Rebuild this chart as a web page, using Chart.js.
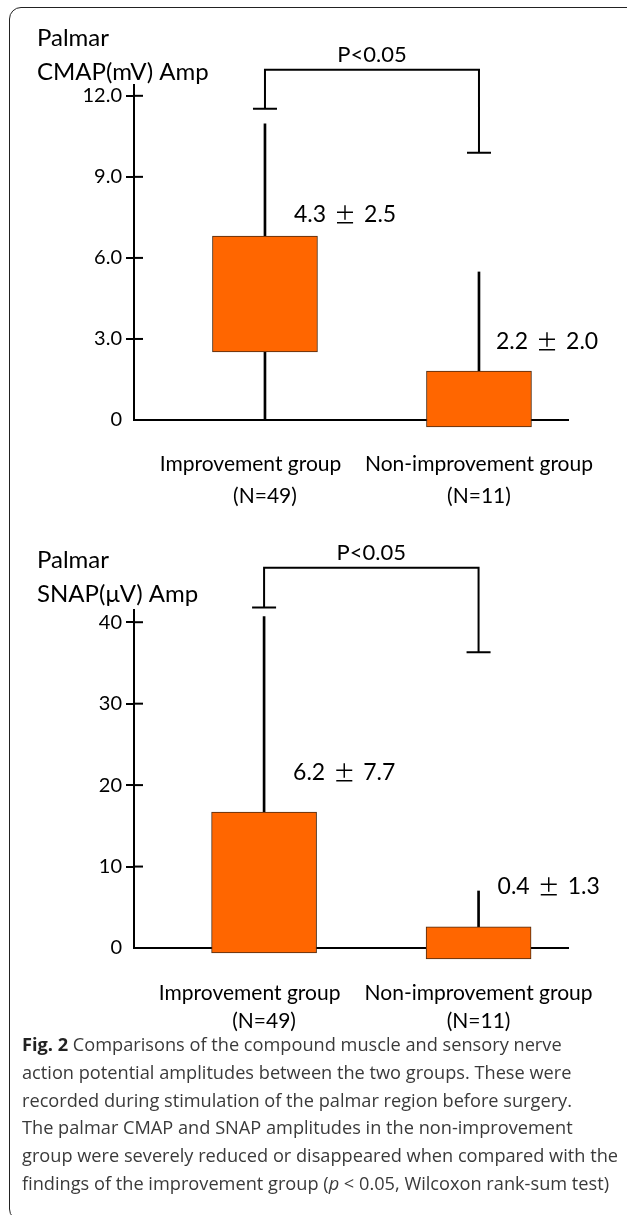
<!DOCTYPE html>
<html>
<head>
<meta charset="utf-8">
<script src="https://cdn.jsdelivr.net/npm/chart.js@4"></script>
<style>
  html, body { margin: 0; padding: 0; background: #fff; }
  body { width: 627px; height: 1215px; position: relative; overflow: hidden; }
  .frame {
    position: absolute; left: 9px; top: 7px; width: 630px; height: 1214px;
    border: 1.5px solid #222; border-radius: 12px; box-sizing: border-box;
  }
  canvas { position: absolute; left: 0; }
  #cmapChart { top: 0; }
  #snapChart { top: 520px; }
  #caption {
    position: absolute; left: 22px; top: 1031px;
    font-family: 'Open Sans', sans-serif; font-size: 18.2px; line-height: 27.8px;
    color: #3a3a3a; white-space: nowrap;
  }
  #caption b { color: #222; }
</style>
</head>
<body>
<div class="frame"></div>
<canvas id="cmapChart" width="627" height="520"></canvas>
<canvas id="snapChart" width="627" height="520"></canvas>
<div id="caption">
  <b>Fig. 2</b> Comparisons of the compound muscle and sensory nerve<br>
  action potential amplitudes between the two groups. These were<br>
  recorded during stimulation of the palmar region before surgery.<br>
  The palmar CMAP and SNAP amplitudes in the non-improvement<br>
  group were severely reduced or disappeared when compared with the<br>
  findings of the improvement group (<i>p</i> &lt; 0.05, Wilcoxon rank-sum test)
</div>
<script>
// data
const categories = ['Improvement group', 'Non-improvement group'];
const groupSizes = [49, 11];

// palmar CMAP amplitude (mV)
const cmapBoxLow = [2.52, -0.26];
const cmapBoxHigh = [6.81, 1.81];
const cmapWhiskerHigh = [10.96, 5.48];
const cmapMaxCap = [11.52, 9.89];
const cmapMean = [4.3, 2.2];
const cmapSd = [2.5, 2.0];
const cmapTicks = [0, 3, 6, 9, 12];

// palmar SNAP amplitude (uV)
const snapBoxLow = [-0.6, -1.35];
const snapBoxHigh = [16.7, 2.6];
const snapWhiskerHigh = [40.7, 7.0];
const snapMaxCap = [41.8, 36.3];
const snapMean = [6.2, 0.4];
const snapSd = [7.7, 1.3];
const snapTicks = [0, 10, 20, 30, 40];

const pText = 'P<0.05';
const FONT = 'Lato, sans-serif';

// draws the right half of the y ticks, the significance bracket and the mean ± SD labels
const annotate = {
  id: 'annotate',
  afterDatasetsDraw: (chart, args, o) => {
    const ctx = chart.ctx;
    const xs = chart.scales.x;
    const ys = chart.scales.y;
    ctx.save();
    ctx.strokeStyle = '#000';
    ctx.lineWidth = 2;

    // tick stubs right of the axis
    ys.ticks.forEach(t => {
      if (t.value === 0) return;
      const y = ys.getPixelForValue(t.value);
      ctx.beginPath();
      ctx.moveTo(chart.chartArea.left, y);
      ctx.lineTo(chart.chartArea.left + 9, y);
      ctx.stroke();
    });

    // bracket
    const x0 = xs.getPixelForValue(0);
    const x1 = xs.getPixelForValue(1);
    const yTop = ys.getPixelForValue(o.bracketTop);
    const c0 = ys.getPixelForValue(o.caps[0]);
    const c1 = ys.getPixelForValue(o.caps[1]);
    ctx.beginPath();
    ctx.moveTo(x0, c0);
    ctx.lineTo(x0, yTop);
    ctx.lineTo(x1, yTop);
    ctx.lineTo(x1, c1);
    ctx.moveTo(x0 - 12, c0);
    ctx.lineTo(x0 + 12, c0);
    ctx.moveTo(x1 - 12, c1);
    ctx.lineTo(x1 + 12, c1);
    ctx.stroke();

    ctx.fillStyle = '#000';
    ctx.font = '22px ' + FONT;
    ctx.textAlign = 'center';
    ctx.textBaseline = 'middle';
    ctx.fillText(pText, (x0 + x1) / 2, yTop - 15);

    // mean ± SD, the ± sign is wide in the original
    ctx.textAlign = 'left';
    o.mean.forEach((m, i) => {
      let x = xs.getPixelForValue(i) + o.labelDx[i];
      const y = ys.getPixelForValue(o.labelAt[i]);
      const parts = [m.toFixed(1), '\u00b1', o.sd[i].toFixed(1)];
      parts.forEach((p, k) => {
        ctx.font = k === 1 ? '22px "Noto Sans CJK JP"' : '23px ' + FONT;
        ctx.fillText(p, x, y);
        x += ctx.measureText(p).width + 8;
      });
    });
    ctx.restore();
  }
};

function makeChart(id, s) {
  const ctx = document.getElementById(id).getContext('2d');
  return new Chart(ctx, {
    type: 'bar',
    data: {
      datasets: [
        {
          label: 'range',
          data: s.whiskerHigh.map((v, i) => ({ x: i, y: [0, v] })),
          backgroundColor: '#000',
          barThickness: 2,
          grouped: false,
          order: 2,
          clip: false
        },
        {
          label: 'box',
          data: s.boxLow.map((v, i) => ({ x: i, y: [v, s.boxHigh[i]] })),
          backgroundColor: '#ff6600',
          borderColor: '#4a2a12',
          borderWidth: 1,
          borderSkipped: false,
          barThickness: 105,
          grouped: false,
          order: 1,
          clip: false
        }
      ]
    },
    options: {
      responsive: false,
      animation: false,
      layout: { padding: { left: 37, right: s.padRight, top: 0, bottom: 0 } },
      plugins: {
        legend: { display: false },
        tooltip: { enabled: false },
        title: {
          display: true,
          text: s.title,
          align: 'start',
          color: '#000',
          font: { family: FONT, size: 24, weight: 'normal', lineHeight: '34px' },
          padding: { top: s.titleTop, bottom: s.titleBottom }
        },
        annotate: {
          bracketTop: s.bracketTop,
          caps: s.caps,
          mean: s.mean,
          sd: s.sd,
          labelAt: s.labelAt,
          labelDx: s.labelDx
        }
      },
      scales: {
        x: {
          type: 'linear',
          offset: false,
          min: s.xMin,
          max: s.xMax,
          afterBuildTicks: sc => { sc.ticks = categories.map((c, i) => ({ value: i })); },
          afterFit: sc => { sc.height = s.xHeight; },
          grid: { display: false },
          border: { display: true, color: '#000', width: 2 },
          ticks: {
            autoSkip: false,
            maxRotation: 0,
            color: '#000',
            padding: s.xPad,
            font: { family: FONT, size: 21, lineHeight: s.xLine + 'px' },
            // first label sits a little left of its box in the original
            callback: (v, i) => [categories[i] + (i === 0 ? '\u2003\u2002\u2009' : ''), '(N=' + groupSizes[i] + ')']
          }
        },
        y: {
          min: 0,
          max: s.yMax,
          afterBuildTicks: sc => { sc.ticks = s.ticks.map(v => ({ value: v })); },
          afterFit: sc => { sc.width = 97; },
          grid: {
            drawOnChartArea: false,
            tickLength: 8,
            lineWidth: 2,
            color: c => (c.tick && c.tick.value === 0) ? 'rgba(0,0,0,0)' : '#000'
          },
          border: { display: true, color: '#000', width: 2 },
          ticks: {
            color: '#000',
            padding: 4,
            font: { family: FONT, size: 20 },
            callback: v => s.fmt(v)
          }
        }
      }
    },
    plugins: [annotate]
  });
}

makeChart('cmapChart', {
  title: ['Palmar', 'CMAP(mV) Amp'],
  titleTop: 21, titleBottom: -4,
  padRight: 59, xMin: -0.612, xMax: 1.416,
  xHeight: 100, xPad: 20, xLine: 32,
  yMax: 12.4,
  boxLow: cmapBoxLow, boxHigh: cmapBoxHigh, whiskerHigh: cmapWhiskerHigh,
  caps: cmapMaxCap, bracketTop: 12.96,
  mean: cmapMean, sd: cmapSd, labelAt: [7.59, 2.89], labelDx: [29, 17],
  ticks: cmapTicks,
  fmt: v => v === 0 ? '0' : v.toFixed(1)
});

makeChart('snapChart', {
  title: ['Palmar', 'SNAP(\u03bcV) Amp'],
  titleTop: 23, titleBottom: -1,
  padRight: 55, xMin: -0.6065, xMax: 1.421,
  xHeight: 92, xPad: 23, xLine: 28,
  yMax: 41.5,
  boxLow: snapBoxLow, boxHigh: snapBoxHigh, whiskerHigh: snapWhiskerHigh,
  caps: snapMaxCap, bracketTop: 46.7,
  mean: snapMean, sd: snapSd, labelAt: [21.5, 7.5], labelDx: [29, 19],
  ticks: snapTicks,
  fmt: v => String(v)
});
</script>
</body>
</html>
